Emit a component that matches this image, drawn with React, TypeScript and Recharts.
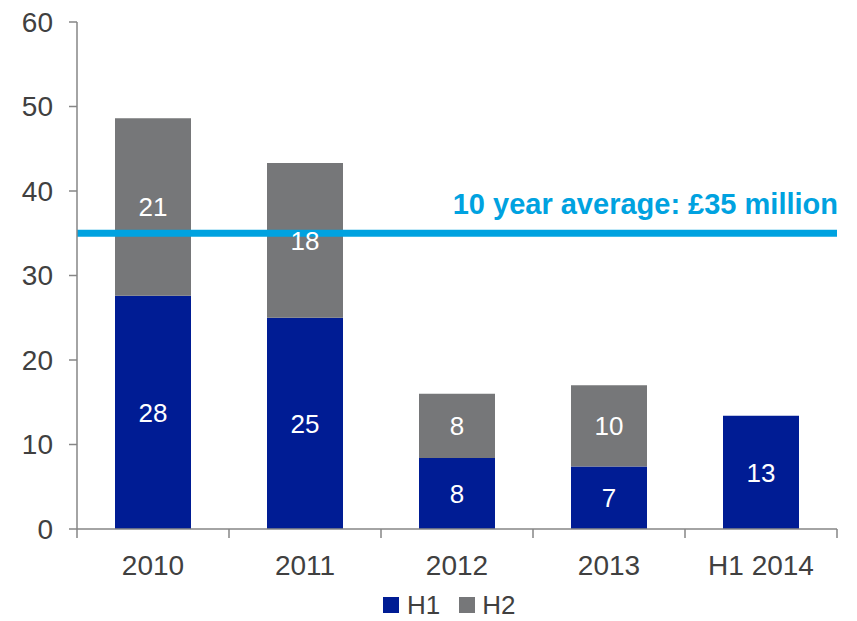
import { BarChart, Bar, XAxis, YAxis, ReferenceLine, LabelList, Legend } from "recharts";

const categories = ["2010", "2011", "2012", "2013", "H1 2014"];
const h1Values = [27.6, 25.0, 8.4, 7.4, 13.4];
const h2Values = [21.0, 18.3, 7.6, 9.6, null];
const yTicks = [0, 10, 20, 30, 40, 50, 60];
const averageValue = 35;
const averageText = "10 year average: £35 million";

const NAVY = "#001C94";
const GREY = "#767779";
const CYAN = "#00A2E0";
const TEXT = "#404040";
const AXIS = "#868686";
const FONT = "'Liberation Sans', Arial, sans-serif";

const data = categories.map((name, i) => ({ name, h1: h1Values[i], h2: h2Values[i] }));

const fmt = (v: any) => (v == null ? "" : String(Math.round(Number(v))));

// category label plus tick marks on the band edges (like Excel/PowerPoint)
const CategoryTick = ({ x, y, payload, index }: any) => {
  const half = payload?.offset ?? 0;
  const isLast = index === categories.length - 1;
  return (
    <g>
      <line x1={x - half} x2={x - half} y1={y} y2={y + 9} stroke={AXIS} strokeWidth={1.5} />
      {isLast && <line x1={x + half} x2={x + half} y1={y} y2={y + 9} stroke={AXIS} strokeWidth={1.5} />}
      <text x={x} y={y + 26} dy="0.71em" textAnchor="middle" fill={TEXT} fontSize={28} fontFamily={FONT}>
        {payload.value}
      </text>
    </g>
  );
};

const AverageLabel = ({ viewBox }: any) => {
  if (!viewBox) return null;
  return (
    <text
      x={viewBox.x + viewBox.width + 1}
      y={viewBox.y - 19}
      textAnchor="end"
      fill={CYAN}
      fontSize={29}
      fontWeight="bold"
      fontFamily={FONT}
    >
      {averageText}
    </text>
  );
};

const LegendContent = () => (
  <div style={{ display: "flex", alignItems: "center", paddingLeft: 383, paddingTop: 10, fontFamily: FONT, fontSize: 26, color: TEXT, lineHeight: "28px" }}>
    <span style={{ width: 16, height: 16, background: NAVY, display: "inline-block", marginRight: 8 }} />
    <span style={{ marginRight: 19 }}>H1</span>
    <span style={{ width: 16, height: 16, background: GREY, display: "inline-block", marginRight: 7 }} />
    <span>H2</span>
  </div>
);

export default function App() {
  return (
    <div style={{ position: "absolute", left: 0, top: 0, background: "#fff" }}>
      <BarChart
        width={857}
        height={621}
        data={data}
        margin={{ top: 22, right: 20, left: 0, bottom: 0 }}
        barCategoryGap="25%"
        style={{ fontFamily: FONT }}
      >
        <XAxis
          dataKey="name"
          height={52}
          axisLine={{ stroke: AXIS, strokeWidth: 1.5 }}
          tickLine={false}
          tickSize={0}
          tickMargin={0}
          tick={<CategoryTick />}
          interval={0}
        />
        <YAxis
          width={77}
          domain={[0, 60]}
          ticks={yTicks}
          interval={0}
          tickSize={8}
          tickMargin={16}
          axisLine={{ stroke: AXIS, strokeWidth: 1.5 }}
          tickLine={{ stroke: AXIS, strokeWidth: 1.5 }}
          tick={{ fill: TEXT, fontSize: 28 }}
        />
        <Bar dataKey="h1" stackId="a" fill={NAVY} isAnimationActive={false}>
          <LabelList dataKey="h1" position="center" fill="#fff" fontSize={26} formatter={fmt} />
        </Bar>
        <Bar dataKey="h2" stackId="a" fill={GREY} isAnimationActive={false}>
          <LabelList dataKey="h2" position="center" fill="#fff" fontSize={26} formatter={fmt} />
        </Bar>
        <ReferenceLine y={averageValue} stroke={CYAN} strokeWidth={7} label={<AverageLabel />} />
        <Legend verticalAlign="bottom" height={40} content={<LegendContent />} />
      </BarChart>
    </div>
  );
}
